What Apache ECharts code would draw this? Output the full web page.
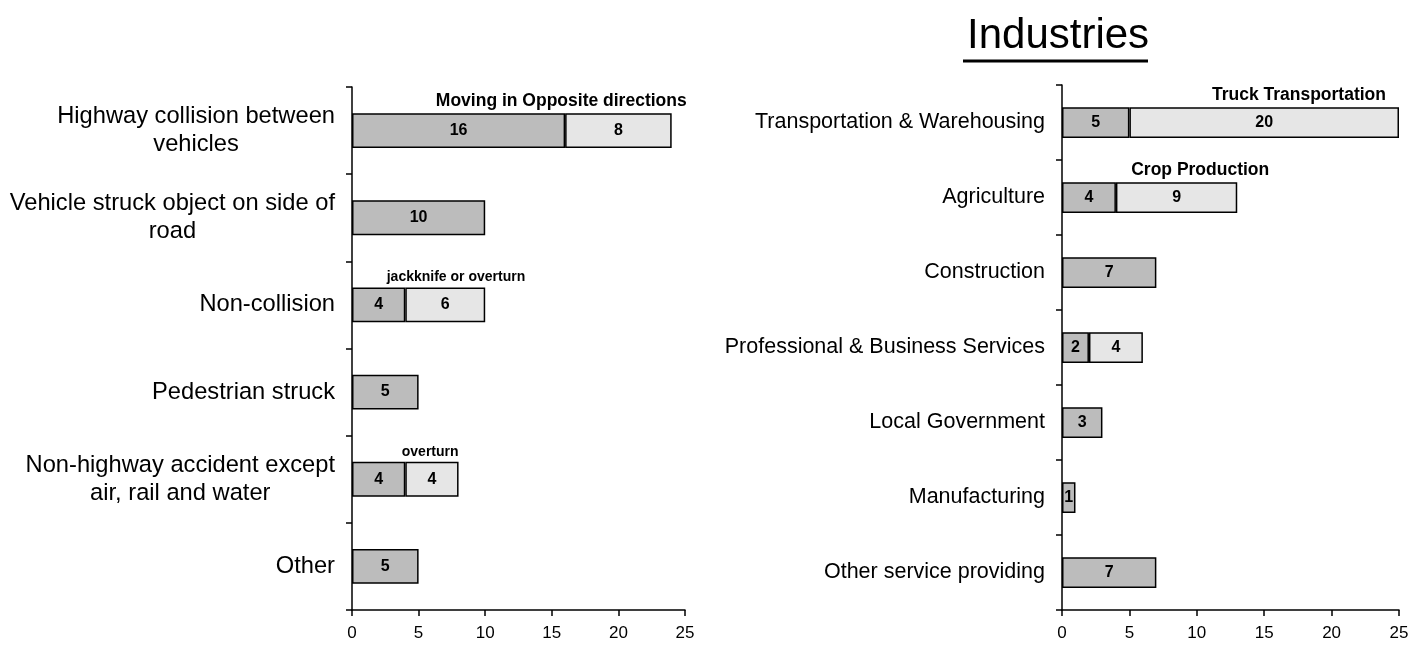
<!DOCTYPE html>
<html>
<head>
<meta charset="utf-8">
<script src="https://cdn.jsdelivr.net/npm/echarts@6/dist/echarts.min.js"></script>
<style>
  html, body { margin: 0; padding: 0; background: #fff; }
  #main { width: 1427px; height: 648px; }
</style>
</head>
<body>
<div id="main"></div>
<script>
// left chart: events
var eventNames = ['Highway collision between\nvehicles', 'Vehicle struck object on side of\nroad', 'Non-collision',
  'Pedestrian struck', 'Non-highway accident except\nair, rail and water', 'Other'];
var eventTotal = [16, 10, 4, 5, 4, 5];
var eventSub = [8, null, 6, null, 4, null];
var eventNotes = ['Moving in Opposite directions', '', 'jackknife or overturn', '', 'overturn', ''];

// right chart: industries
var industryNames = ['Transportation & Warehousing', 'Agriculture', 'Construction',
  'Professional & Business Services', 'Local Government', 'Manufacturing', 'Other service providing'];
var industryTotal = [5, 4, 7, 2, 3, 1, 7];
var industrySub = [20, 9, null, 4, null, null, null];
var industryNotes = ['Truck Transportation', 'Crop Production', '', '', '', '', ''];

var xTicks = [0, 5, 10, 15, 20, 25];

// note text nudge (relative to the bar end) and font size
var eventNoteShift = [15, 0, 40, 0, 0, 0];
var eventNoteSize = [17.5, 14, 14, 14, 14, 14];
var industryNoteShift = [-13, 32, 0, 0, 0, 0, 0];
var industryNoteSize = [17.5, 17.5, 17.5, 17.5, 17.5, 17.5, 17.5];

var FONT = 'Arial, "Liberation Sans", sans-serif';
var darkFill = '#bcbcbc';
var lightFill = '#e6e6e6';

function sum(a, b) { return a + (b || 0); }

function valueAxis(idx) {
  return {
    type: 'value', gridIndex: idx, min: 0, max: 25, interval: 5,
    splitLine: { show: false },
    axisLine: { show: true, lineStyle: { color: '#000', width: 1.5 } },
    axisTick: { show: true, length: 6, lineStyle: { color: '#000', width: 1.5 } },
    axisLabel: { color: '#000', fontSize: 17, fontFamily: FONT, margin: 15,
      formatter: function (v) { return xTicks.indexOf(v) >= 0 ? String(v) : ''; } }
  };
}

function catAxis(idx, names, size, lh) {
  return {
    type: 'category', gridIndex: idx, data: names, inverse: true,
    axisLine: { show: true, lineStyle: { color: '#000', width: 1.5 } },
    axisTick: { show: true, length: 6, lineStyle: { color: '#000', width: 1.5 } },
    axisLabel: {
      color: '#000', margin: 17, fontFamily: FONT, fontSize: size,
      formatter: function (v) {
        return v.split('\n').map(function (l) { return '{c|' + l + '}'; }).join('\n');
      },
      rich: { c: { align: 'center', fontSize: size, lineHeight: lh, fontFamily: FONT, color: '#000' } }
    }
  };
}

var valLabel = { show: true, position: 'inside', color: '#000', fontWeight: 'bold', fontSize: 16, fontFamily: FONT };
var barBorder = { borderColor: '#000', borderWidth: 1.5 };

function barSeries(idx, totals, subs, notes, shifts, sizes, bw) {
  var ends = totals.map(function (t, i) { return sum(t, subs[i]); });
  return [
    {
      type: 'bar', xAxisIndex: idx, yAxisIndex: idx, stack: 's' + idx, barWidth: bw,
      itemStyle: Object.assign({ color: darkFill }, barBorder),
      label: valLabel, data: totals
    },
    {
      type: 'bar', xAxisIndex: idx, yAxisIndex: idx, stack: 's' + idx, barWidth: bw,
      itemStyle: Object.assign({ color: lightFill }, barBorder),
      label: valLabel, data: subs
    },
    {
      // invisible bar over the whole stack, carries the note text
      type: 'bar', xAxisIndex: idx, yAxisIndex: idx, barWidth: bw, barGap: '-100%', z: 1,
      itemStyle: { color: 'rgba(0,0,0,0)' }, silent: true,
      data: ends.map(function (e, i) {
        return {
          value: notes[i] ? e : null,
          label: {
            show: !!notes[i], formatter: notes[i], position: ['100%', 0],
            align: 'right', verticalAlign: 'bottom', offset: [shifts[i], -3],
            color: '#000', fontWeight: 'bold', fontSize: sizes[i], fontFamily: FONT
          }
        };
      })
    }
  ];
}

var chart = echarts.init(document.getElementById('main'));
chart.setOption({
  animation: false,
  backgroundColor: '#fff',
  title: {
    text: 'Industries', left: 962, top: 10,
    textStyle: { fontSize: 42, fontWeight: 'normal', color: '#000', fontFamily: FONT }
  },
  graphic: [{
    type: 'line', shape: { x1: 963, y1: 61, x2: 1148, y2: 61 },
    style: { stroke: '#000', lineWidth: 3 }
  }],
  grid: [
    { left: 352, right: 742, top: 87, bottom: 38 },
    { left: 1062, right: 28, top: 85, bottom: 38 }
  ],
  xAxis: [valueAxis(0), valueAxis(1)],
  yAxis: [catAxis(0, eventNames, 23.7, 28), catAxis(1, industryNames, 21.5, 24)],
  series: barSeries(0, eventTotal, eventSub, eventNotes, eventNoteShift, eventNoteSize, '40%')
    .concat(barSeries(1, industryTotal, industrySub, industryNotes, industryNoteShift, industryNoteSize, '41%'))
});
</script>
</body>
</html>
